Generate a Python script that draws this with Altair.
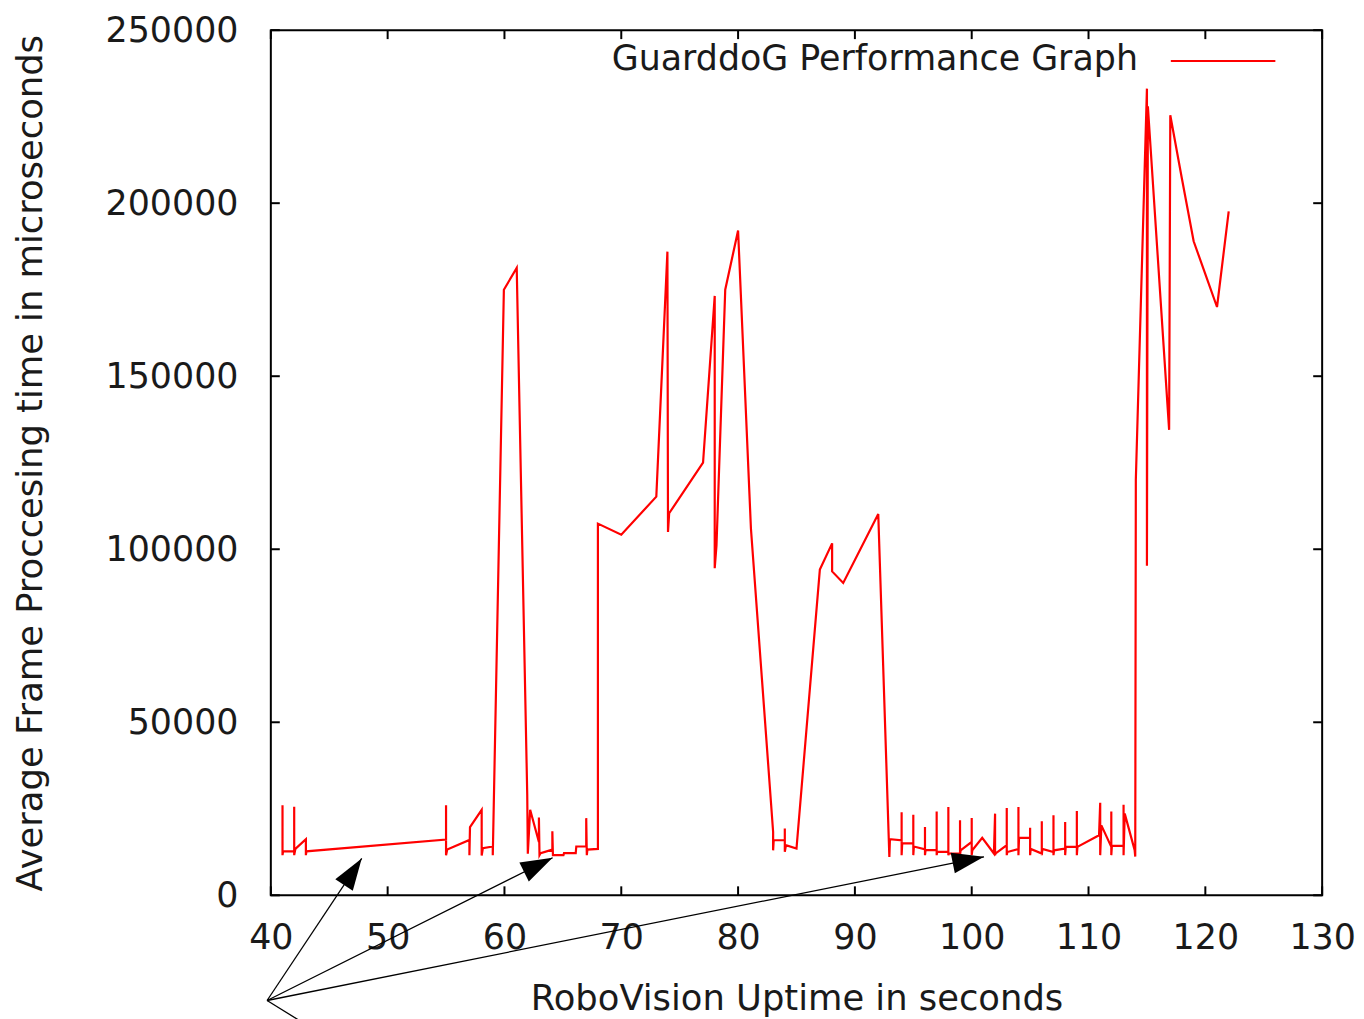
import math
import altair as alt
import pandas as pd

# ---- data (ordered as drawn) ----
uptime_s = [
    41.0, 41.0, 41.05, 42.0, 42.0, 42.0, 42.1, 43.0, 43.0, 43.05,
    55.0, 55.0, 55.0, 55.1, 57.0, 57.0, 57.05, 58.05, 58.05, 58.15, 59.0, 59.0,
    59.95, 61.05, 61.95, 62.0, 62.2, 62.95, 62.95, 63.0, 63.1, 64.1, 64.1, 64.15,
    65.05, 65.1, 66.1, 66.15, 67.0, 67.0, 67.05, 67.1, 68.0,
    68.0, 70.0, 73.0, 73.95, 74.0, 74.1, 77.0, 78.0, 78.0, 78.15, 78.9, 80.0, 81.1, 83.0,
    83.0, 83.05, 84.0, 84.0, 84.0, 84.1, 85.0, 87.0, 88.05, 88.05, 89.0, 92.0, 92.95,
    93.0, 94.0, 94.0, 94.0, 94.05, 95.0, 95.0, 95.0, 95.05, 96.0, 96.0, 96.0, 96.05,
    97.0, 97.0, 97.0, 97.05, 98.0, 98.0, 98.0, 98.05, 99.0, 99.0, 99.0, 99.05,
    100.0, 100.0, 100.0, 100.05, 100.9, 101.9, 102.0, 102.0, 102.05, 103.0, 103.0, 103.0, 103.05,
    104.0, 104.0, 104.0, 104.05, 105.0, 105.0, 105.0, 105.05, 106.0, 106.0, 106.0, 106.05,
    107.0, 107.0, 107.0, 107.05, 108.0, 108.0, 108.0, 108.05, 109.0, 109.0, 109.0, 109.05,
    110.9, 111.0, 111.0, 111.1, 111.95, 111.95, 111.95, 112.0, 113.0, 113.0, 113.0, 113.1,
    113.95, 114.0, 114.05, 115.0, 115.0, 115.08, 116.9, 117.0, 118.0, 119.0, 120.0, 121.0, 122.0,
]
frame_us = [
    26000, 11600, 12700, 12700, 25600, 11600, 13400, 16200, 11600, 12700,
    16100, 26000, 11600, 13200, 16000, 11600, 19700, 24700, 11500, 13600, 14100, 11600,
    175000, 181300, 29000, 12000, 24700, 15400, 22500, 11600, 12200, 13200, 18500, 11600,
    11600, 12200, 12200, 14100, 14100, 22300, 11600, 13200, 13400,
    107400, 104200, 115200, 186000, 105000, 110400, 125000, 173200, 94500, 101000, 175000, 192100, 106000, 18300,
    13000, 15900, 15900, 19300, 12550, 14500, 13500, 94100, 101700, 93600, 90250, 110200, 11100,
    16200, 15900, 24000, 11600, 15000, 15000, 23300, 11600, 14100, 13300, 19750, 11600, 13030,
    13030, 24250, 11600, 12560, 12560, 25500, 11600, 12080, 12080, 21700, 11600, 13000,
    15450, 22350, 11600, 13000, 16600, 12080, 23600, 11600, 12080, 14470, 25200, 11600, 12500,
    13400, 25500, 11600, 16600, 16600, 19500, 11600, 13400, 12080, 21400, 11600, 13400,
    12500, 23100, 11600, 13000, 13500, 21200, 11600, 14000, 14000, 24350, 11600, 14000,
    17350, 26750, 11600, 20200, 14000, 24250, 11600, 14270, 14270, 26200, 11600, 23600,
    13000, 11200, 120000, 233100, 95200, 228000, 134500, 225400, 207000, 189000, 179500, 170000, 197600,
]

series_name = "GuarddoG Performance Graph"
x_title = "RoboVision Uptime in seconds"
y_title = "Average Frame Proccesing time in microseconds"
x_ticks = [40, 50, 60, 70, 80, 90, 100, 110, 120, 130]
y_ticks = [0, 50000, 100000, 150000, 200000, 250000]

# annotation arrows (data units)
arrow_from_x = 39.68
arrow_from_y = -30400
arrow_to_x = [47.78, 64.12, 101.05]
arrow_to_y = [10650, 10850, 11130]
extra_to_x = 42.6
extra_to_y = -36500

# ---- layout ----
W, H = 1056, 869
FONT = "DejaVu Sans"
FS = 35
FS_T = 35.5
FS_KEY = 35
TXT = "#1a1a1a"
X_DOM = [40, 130]
Y_DOM = [0, 250000]

xs = alt.Scale(domain=X_DOM, nice=False, zero=False)
ys = alt.Scale(domain=Y_DOM, nice=False, zero=False)

xax = alt.Axis(values=x_ticks, ticks=False, domain=False, grid=False, format="d",
               labelPadding=25, titlePadding=27, labelFlush=False, labelOverlap=False)
yax = alt.Axis(values=y_ticks, ticks=False, domain=False, grid=False, format="d",
               labelPadding=33, titlePadding=57, labelFlush=False, labelOverlap=False)

df = pd.DataFrame({"x": uptime_s, "y": frame_us})
df["i"] = range(len(df))

line = alt.Chart(df).mark_line(color="#ff0000", strokeWidth=2.2).encode(
    x=alt.X("x:Q", scale=xs, axis=xax, title=x_title),
    y=alt.Y("y:Q", scale=ys, axis=yax, title=y_title),
    order=alt.Order("i:Q"),
)

# inward ticks on all four sides
xt = pd.DataFrame({"x": x_ticks})
yt = pd.DataFrame({"y": y_ticks})
xenc = alt.X("x:Q", scale=xs, axis=xax, title=x_title)
yenc = alt.Y("y:Q", scale=ys, axis=yax, title=y_title)
tick_b = alt.Chart(xt).mark_rule(color="black", strokeWidth=2).encode(
    x=xenc, y=alt.value(H), y2=alt.value(H - 9))
tick_t = alt.Chart(xt).mark_rule(color="black", strokeWidth=2).encode(
    x=xenc, y=alt.value(0), y2=alt.value(9))
tick_l = alt.Chart(yt).mark_rule(color="black", strokeWidth=2).encode(
    y=yenc, x=alt.value(0), x2=alt.value(9))
tick_r = alt.Chart(yt).mark_rule(color="black", strokeWidth=2).encode(
    y=yenc, x=alt.value(W), x2=alt.value(W - 9))

# arrows
px_per_x = W / (X_DOM[1] - X_DOM[0])
px_per_y = H / (Y_DOM[1] - Y_DOM[0])
adf = pd.DataFrame({
    "x": [arrow_from_x] * len(arrow_to_x),
    "y": [arrow_from_y] * len(arrow_to_x),
    "x1": arrow_to_x,
    "y1": arrow_to_y,
})
adf["angle"] = [
    math.degrees(math.atan2((tx - arrow_from_x) * px_per_x, (ty - arrow_from_y) * px_per_y))
    for tx, ty in zip(arrow_to_x, arrow_to_y)
]
edf = pd.DataFrame({"x": [arrow_from_x], "y": [arrow_from_y], "x1": [extra_to_x], "y1": [extra_to_y]})
all_lines = pd.concat([adf[["x", "y", "x1", "y1"]], edf], ignore_index=True)

arrow_lines = alt.Chart(all_lines).mark_rule(color="black", strokeWidth=1.3, clip=False).encode(
    x=xenc, y=yenc, x2="x1:Q", y2="y1:Q")
heads = alt.Chart(adf).mark_point(
    shape="M0,0L-0.33,1L0.33,1Z", filled=True, color="black", opacity=1, size=4096, clip=False
).encode(
    x=alt.X("x1:Q", scale=xs, axis=xax, title=x_title),
    y=alt.Y("y1:Q", scale=ys, axis=yax, title=y_title),
    angle=alt.Angle("angle:Q", scale=None),
)

# key (gnuplot style: label left of sample)
kdf = pd.DataFrame({"label": [series_name]})
key_text = alt.Chart(kdf).mark_text(
    align="right", baseline="middle", font=FONT, fontSize=FS_KEY, color=TXT
).encode(text="label:N", x=alt.value(871), y=alt.value(29))
key_line = alt.Chart(kdf).mark_rule(color="#ff0000", strokeWidth=2).encode(
    x=alt.value(904), x2=alt.value(1009), y=alt.value(31))

chart = alt.layer(
    line, tick_b, tick_t, tick_l, tick_r, arrow_lines, heads, key_text, key_line
).properties(
    width=W, height=H,
    autosize=alt.AutoSizeParams(type="none"),
    padding={"left": 264, "top": 20, "right": 34, "bottom": 122},
).configure(
    background="white"
).configure_view(
    stroke="black", strokeWidth=2
).configure_axis(
    labelFont=FONT, labelFontSize=FS, labelColor=TXT,
    titleFont=FONT, titleFontSize=FS_T, titleColor=TXT, titleFontWeight="normal",
)

chart.save("out.html", embed_options={"renderer": "svg", "actions": False})
